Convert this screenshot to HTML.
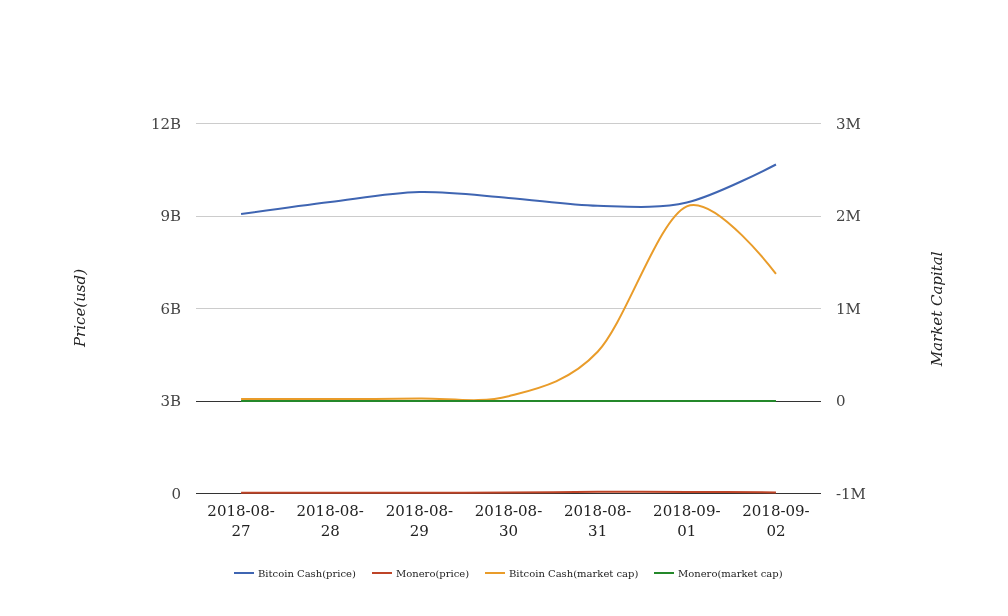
<!DOCTYPE html>
<html><head><meta charset="utf-8"><title>chart</title>
<style>
html,body{margin:0;padding:0;background:#fff;}
svg{display:block;font-family:"DejaVu Serif","Liberation Serif",serif;}
</style></head><body>
<svg width="1008" height="616" viewBox="0 0 1008 616">
<rect x="0" y="0" width="1008" height="616" fill="#ffffff"/>

<rect x="196" y="123" width="625" height="1" fill="#cccccc"/>
<rect x="196" y="216" width="625" height="1" fill="#cccccc"/>
<rect x="196" y="308" width="625" height="1" fill="#cccccc"/>
<rect x="196" y="401" width="625" height="1" fill="#333333"/>
<rect x="196" y="493" width="625" height="1" fill="#333333"/>
<path d="M241.07,214.10C241.07,214.10,301.69,205.62,330.22,202.10C358.75,198.58,390.84,192.77,419.37,192.10C447.90,191.43,479.99,195.71,508.52,197.90C537.05,200.09,569.14,205.06,597.67,205.80C626.20,206.54,658.29,209.11,686.82,202.50C715.35,195.89,775.97,164.50,775.97,164.50" fill="none" stroke="#3f65b2" stroke-width="2"/>
<path d="M241.07,492.70C241.07,492.70,301.69,492.78,330.22,492.80C358.75,492.82,390.84,492.85,419.37,492.80C447.90,492.75,479.99,492.66,508.52,492.50C537.05,492.34,569.14,491.90,597.67,491.80C626.20,491.70,658.29,491.80,686.82,491.90C715.35,492.00,775.97,492.40,775.97,492.40" fill="none" stroke="#be4427" stroke-width="2"/>
<path d="M241.07,399.00C241.07,399.00,301.69,399.08,330.22,399.00C358.75,398.92,390.84,398.93,419.37,398.50C447.90,398.07,479.99,403.77,508.52,396.30C537.05,388.83,569.14,382.20,597.67,351.80C626.20,321.40,658.29,218.76,686.82,206.30C715.35,193.84,775.97,273.90,775.97,273.90" fill="none" stroke="#e99c2a" stroke-width="2"/>
<path d="M241.07,401.00C241.07,401.00,301.69,401.00,330.22,401.00C358.75,401.00,390.84,401.00,419.37,401.00C447.90,401.00,479.99,401.00,508.52,401.00C537.05,401.00,569.14,401.00,597.67,401.00C626.20,401.00,658.29,401.00,686.82,401.00C715.35,401.00,775.97,401.00,775.97,401.00" fill="none" stroke="#24882a" stroke-width="2"/>
<text x="181" y="128.8" text-anchor="end" font-size="15" fill="#444444">12B</text>
<text x="181" y="221.2" text-anchor="end" font-size="15" fill="#444444">9B</text>
<text x="181" y="313.8" text-anchor="end" font-size="15" fill="#444444">6B</text>
<text x="181" y="406.2" text-anchor="end" font-size="15" fill="#444444">3B</text>
<text x="181" y="498.8" text-anchor="end" font-size="15" fill="#444444">0</text>
<text x="836" y="128.8" text-anchor="start" font-size="15" fill="#444444">3M</text>
<text x="836" y="221.2" text-anchor="start" font-size="15" fill="#444444">2M</text>
<text x="836" y="313.8" text-anchor="start" font-size="15" fill="#444444">1M</text>
<text x="836" y="406.2" text-anchor="start" font-size="15" fill="#444444">0</text>
<text x="836" y="498.8" text-anchor="start" font-size="15" fill="#444444">-1M</text>
<text x="241.07" y="516.2" text-anchor="middle" font-size="15" fill="#222222">2018-08-</text>
<text x="241.07" y="535.7" text-anchor="middle" font-size="15" fill="#222222">27</text>
<text x="330.22" y="516.2" text-anchor="middle" font-size="15" fill="#222222">2018-08-</text>
<text x="330.22" y="535.7" text-anchor="middle" font-size="15" fill="#222222">28</text>
<text x="419.37" y="516.2" text-anchor="middle" font-size="15" fill="#222222">2018-08-</text>
<text x="419.37" y="535.7" text-anchor="middle" font-size="15" fill="#222222">29</text>
<text x="508.52" y="516.2" text-anchor="middle" font-size="15" fill="#222222">2018-08-</text>
<text x="508.52" y="535.7" text-anchor="middle" font-size="15" fill="#222222">30</text>
<text x="597.67" y="516.2" text-anchor="middle" font-size="15" fill="#222222">2018-08-</text>
<text x="597.67" y="535.7" text-anchor="middle" font-size="15" fill="#222222">31</text>
<text x="686.82" y="516.2" text-anchor="middle" font-size="15" fill="#222222">2018-09-</text>
<text x="686.82" y="535.7" text-anchor="middle" font-size="15" fill="#222222">01</text>
<text x="775.97" y="516.2" text-anchor="middle" font-size="15" fill="#222222">2018-09-</text>
<text x="775.97" y="535.7" text-anchor="middle" font-size="15" fill="#222222">02</text>
<text x="0" y="0" transform="translate(85,308) rotate(-90)" text-anchor="middle" font-size="15" font-style="italic" fill="#222222">Price(usd)</text>
<text x="0" y="0" transform="translate(942.3,308.9) rotate(-90)" text-anchor="middle" font-size="15" font-style="italic" fill="#222222">Market Capital</text>
<rect x="234.0" y="572" width="20" height="2" fill="#3f65b2"/>
<text x="258.0" y="577" font-size="10" fill="#222222">Bitcoin Cash(price)</text>
<rect x="372.0" y="572" width="20" height="2" fill="#be4427"/>
<text x="396.0" y="577" font-size="10" fill="#222222">Monero(price)</text>
<rect x="485.0" y="572" width="20" height="2" fill="#e99c2a"/>
<text x="509.0" y="577" font-size="10" fill="#222222">Bitcoin Cash(market cap)</text>
<rect x="654.0" y="572" width="20" height="2" fill="#24882a"/>
<text x="678.0" y="577" font-size="10" fill="#222222">Monero(market cap)</text>
</svg></body></html>
